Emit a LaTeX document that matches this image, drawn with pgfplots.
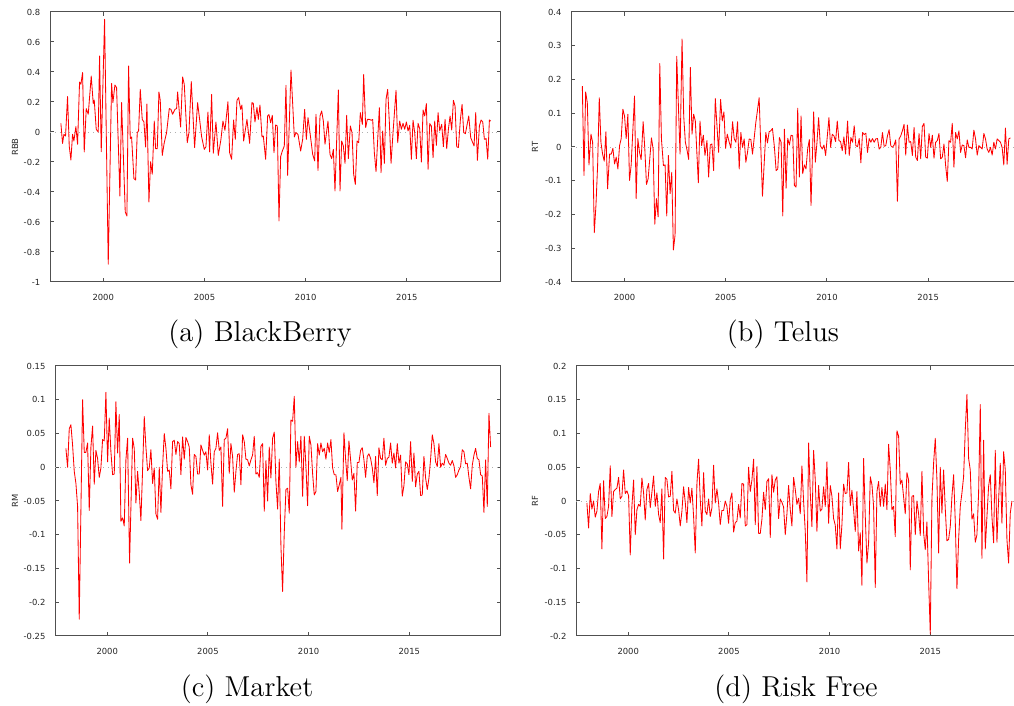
\documentclass[border=0pt]{standalone}
\usepackage{fontspec}
\newfontfamily\gp{DejaVu Sans}
\usepackage{pgfplots}
\pgfplotsset{compat=1.18}
\definecolor{gpframe}{RGB}{80,80,80}
\definecolor{gpzero}{RGB}{175,175,175}
\pgfplotsset{
  gpstyle/.style={
    scale only axis, height=135pt, anchor=south west,
    axis line style={draw=gpframe, line width=0.5pt},
    tick style={draw=gpframe, line width=0.5pt},
    major tick length=1.8pt, tick align=inside, tick pos=both,
    xticklabel pos=lower, yticklabel pos=left,
    tick label style={font=\gp\fontsize{4.2}{5}\selectfont, text=black!85},
    label style={font=\gp\fontsize{4.2}{5}\selectfont, text=black!85},
    /pgf/number format/assume math mode=true,
    xtick={2000,2005,2010,2015},
    xticklabel style={/pgf/number format/1000 sep={}, yshift=-2.4pt},
    yticklabel style={/pgf/number format/fixed, /pgf/number format/precision=2, xshift=-1.4pt},
    scaled x ticks=false, scaled y ticks=false,
    extra y ticks={0}, extra y tick labels={},
    extra y tick style={grid=major, major grid style={draw=gpzero, dotted, line width=0.4pt}, major tick length=0pt},
  },
  gpline/.style={draw=red, line width=0.42pt, mark=none, line join=round},
}
\begin{document}
\begin{tikzpicture}
\useasboundingbox (0,0) rectangle (507pt,353pt);
% (a) BlackBerry
\begin{axis}[gpstyle, at={(25pt,212pt)}, width=225.3pt,
  xmin=1997.37, xmax=2019.63, ymin=-1, ymax=0.8, ytick={-1,-0.8,...,0.8},
  ylabel={RBB}, ylabel style={at={(axis description cs:-0.0777,0.5)}, anchor=center}]
\addplot[gpline] coordinates {
(1997.908,0.058)(1997.990,-0.076)(1998.056,-0.016)(1998.138,-0.027)(1998.237,0.236)(1998.320,-0.093)(1998.402,-0.187)(1998.484,-0.016)(1998.550,-0.060)(1998.649,0.036)(1998.732,-0.082)(1998.830,0.333)(1998.896,0.318)(1998.979,0.396)(1999.061,-0.133)(1999.160,0.156)(1999.259,0.118)(1999.407,0.373)(1999.506,0.189)(1999.555,0.213)(1999.654,0.018)(1999.753,0.000)(1999.819,0.507)(1999.901,-0.131)(2000.066,0.751)(2000.247,-0.882)(2000.412,0.324)(2000.478,0.196)(2000.577,0.313)(2000.659,0.296)(2000.824,-0.427)(2000.906,0.196)(2001.087,-0.533)(2001.170,-0.560)(2001.252,0.440)(2001.334,-0.044)(2001.400,-0.033)(2001.516,-0.311)(2001.598,-0.320)(2001.680,-0.004)(2001.746,0.007)(2001.829,0.284)(2001.927,0.084)(2002.010,0.067)(2002.092,-0.100)(2002.158,0.187)(2002.257,-0.467)(2002.339,-0.198)(2002.422,-0.282)(2002.521,0.073)(2002.586,-0.111)(2002.669,-0.111)(2002.751,0.267)(2002.817,0.211)(2002.916,-0.156)(2003.015,-0.071)(2003.130,-0.004)(2003.262,0.156)(2003.344,0.151)(2003.427,0.118)(2003.542,0.151)(2003.624,0.156)(2003.674,0.267)(2003.822,0.033)(2003.921,0.367)(2004.003,0.318)(2004.151,-0.071)(2004.234,-0.004)(2004.349,0.336)(2004.514,-0.104)(2004.662,0.196)(2004.761,0.084)(2004.860,-0.031)(2004.992,-0.116)(2005.074,-0.098)(2005.173,0.133)(2005.255,-0.133)(2005.354,0.251)(2005.436,-0.142)(2005.568,0.067)(2005.684,-0.156)(2005.815,-0.049)(2005.914,0.073)(2006.013,0.011)(2006.161,0.202)(2006.244,-0.138)(2006.342,-0.182)(2006.441,0.080)(2006.524,-0.049)(2006.606,0.211)(2006.688,0.229)(2006.787,0.151)(2006.853,0.180)(2006.936,-0.060)(2007.100,0.084)(2007.232,-0.076)(2007.347,0.196)(2007.413,0.191)(2007.496,0.067)(2007.595,0.164)(2007.660,0.084)(2007.743,0.180)(2007.842,-0.033)(2007.908,-0.027)(2008.023,-0.182)(2008.122,0.107)(2008.188,0.116)(2008.270,0.062)(2008.352,0.111)(2008.435,-0.138)(2008.517,0.047)(2008.599,0.040)(2008.682,-0.593)(2008.764,-0.164)(2008.847,-0.127)(2008.945,-0.093)(2009.028,0.311)(2009.110,-0.289)(2009.275,0.413)(2009.440,-0.033)(2009.522,-0.004)(2009.621,-0.016)(2009.753,-0.127)(2009.851,-0.049)(2009.950,0.151)(2010.033,-0.049)(2010.115,0.096)(2010.214,-0.004)(2010.346,-0.149)(2010.445,-0.193)(2010.510,0.118)(2010.609,-0.256)(2010.708,0.107)(2010.790,0.140)(2010.873,0.073)(2010.955,-0.082)(2011.103,0.073)(2011.202,-0.149)(2011.285,-0.178)(2011.367,-0.116)(2011.449,-0.393)(2011.614,0.280)(2011.697,-0.393)(2011.779,-0.060)(2011.861,-0.093)(2011.944,-0.209)(2012.026,0.111)(2012.108,-0.178)(2012.207,0.040)(2012.290,-0.004)(2012.372,-0.282)(2012.454,-0.349)(2012.537,-0.060)(2012.619,-0.071)(2012.701,0.129)(2012.800,0.051)(2012.866,0.384)(2012.965,0.029)(2013.047,0.084)(2013.146,0.084)(2013.245,0.078)(2013.311,0.084)(2013.393,-0.138)(2013.476,-0.264)(2013.640,0.162)(2013.723,-0.271)(2013.805,0.007)(2013.888,-0.209)(2013.970,0.218)(2014.052,0.284)(2014.135,0.062)(2014.217,-0.209)(2014.316,-0.004)(2014.464,0.278)(2014.547,-0.071)(2014.645,0.073)(2014.728,0.018)(2014.810,0.058)(2014.893,0.018)(2014.975,0.067)(2015.057,0.007)(2015.140,0.044)(2015.222,-0.182)(2015.304,0.078)(2015.387,-0.004)(2015.469,-0.178)(2015.551,0.058)(2015.634,0.022)(2015.716,-0.200)(2015.799,0.147)(2015.881,0.107)(2015.963,0.189)(2016.046,-0.249)(2016.128,0.056)(2016.210,0.040)(2016.293,-0.171)(2016.375,0.073)(2016.458,-0.089)(2016.540,0.129)(2016.622,0.007)(2016.721,0.051)(2016.803,-0.098)(2016.886,0.084)(2016.968,-0.111)(2017.051,0.018)(2017.133,0.107)(2017.215,0.013)(2017.298,0.211)(2017.380,0.173)(2017.462,-0.098)(2017.545,-0.104)(2017.644,0.084)(2017.726,0.184)(2017.808,-0.004)(2017.891,-0.011)(2018.056,0.107)(2018.154,-0.038)(2018.319,-0.093)(2018.401,0.129)(2018.484,-0.189)(2018.583,0.040)(2018.665,0.080)(2018.747,0.067)(2018.830,-0.049)(2018.912,-0.044)(2018.994,-0.182)(2019.077,0.080)(2019.143,0.073)
};
\end{axis}
% (b) Telus
\begin{axis}[gpstyle, at={(285.65pt,212pt)}, width=225.3pt,
  xmin=1997.37, xmax=2019.63, ymin=-0.4, ymax=0.4, ytick={-0.4,-0.3,...,0.4},
  ylabel={RT}, ylabel style={at={(axis description cs:-0.0806,0.5)}, anchor=center}]
\addplot[gpline] coordinates {
(1997.915,0.180)(1997.997,-0.084)(1998.079,0.163)(1998.161,0.131)(1998.243,-0.053)(1998.342,0.038)(1998.424,0.014)(1998.506,-0.254)(1998.588,-0.173)(1998.670,-0.055)(1998.752,0.146)(1998.834,0.014)(1998.916,-0.021)(1998.998,-0.042)(1999.080,0.045)(1999.163,-0.124)(1999.261,-0.021)(1999.343,-0.021)(1999.425,-0.004)(1999.507,-0.050)(1999.589,-0.030)(1999.672,-0.065)(1999.754,0.004)(1999.836,0.025)(1999.918,0.112)(2000.000,0.092)(2000.082,0.025)(2000.164,0.097)(2000.246,-0.099)(2000.328,-0.053)(2000.493,0.151)(2000.575,-0.153)(2000.657,0.025)(2000.739,-0.016)(2000.821,-0.037)(2000.920,0.075)(2001.002,-0.006)(2001.084,-0.111)(2001.166,-0.094)(2001.330,0.027)(2001.412,-0.006)(2001.494,-0.229)(2001.576,-0.153)(2001.658,-0.207)(2001.741,0.247)(2001.823,0.024)(2001.921,-0.055)(2002.003,-0.053)(2002.085,-0.204)(2002.167,-0.025)(2002.250,-0.138)(2002.332,-0.075)(2002.414,-0.305)(2002.496,-0.261)(2002.578,0.269)(2002.742,-0.021)(2002.841,0.320)(2002.923,0.092)(2003.005,0.014)(2003.087,-0.009)(2003.169,-0.037)(2003.251,0.236)(2003.333,0.038)(2003.415,0.097)(2003.497,0.077)(2003.645,-0.106)(2003.727,0.077)(2003.809,0.004)(2003.892,0.035)(2003.974,-0.025)(2004.072,0.019)(2004.154,-0.089)(2004.236,0.006)(2004.318,0.009)(2004.401,-0.070)(2004.483,0.144)(2004.647,-0.016)(2004.745,0.141)(2004.827,0.077)(2004.910,0.104)(2004.992,-0.004)(2005.074,0.038)(2005.172,0.014)(2005.254,-0.003)(2005.337,0.075)(2005.419,0.024)(2005.501,0.014)(2005.583,0.075)(2005.665,-0.065)(2005.747,0.043)(2005.829,-0.001)(2005.911,0.024)(2005.993,-0.045)(2006.075,-0.016)(2006.158,0.024)(2006.240,0.022)(2006.322,-0.021)(2006.486,0.073)(2006.650,0.146)(2006.814,-0.146)(2006.979,0.043)(2007.061,0.012)(2007.143,0.045)(2007.225,0.048)(2007.307,0.055)(2007.405,-0.001)(2007.488,-0.070)(2007.570,-0.065)(2007.652,0.028)(2007.734,0.014)(2007.816,-0.204)(2007.898,0.053)(2007.980,-0.122)(2008.062,0.026)(2008.144,0.006)(2008.226,0.035)(2008.309,0.033)(2008.391,-0.114)(2008.473,-0.119)(2008.555,0.115)(2008.637,-0.089)(2008.719,0.092)(2008.801,-0.079)(2008.883,-0.053)(2008.965,-0.065)(2009.047,-0.006)(2009.130,0.022)(2009.212,-0.173)(2009.343,0.104)(2009.425,-0.045)(2009.507,0.014)(2009.589,0.087)(2009.671,0.004)(2009.770,-0.006)(2009.852,0.006)(2009.934,-0.025)(2010.098,0.087)(2010.180,-0.001)(2010.263,0.038)(2010.345,0.033)(2010.427,0.016)(2010.509,0.077)(2010.591,0.019)(2010.673,0.016)(2010.755,-0.011)(2010.837,0.030)(2010.919,-0.021)(2011.018,0.077)(2011.100,-0.025)(2011.182,0.028)(2011.264,0.014)(2011.346,0.063)(2011.428,0.004)(2011.510,0.001)(2011.593,0.025)(2011.675,-0.047)(2011.757,0.043)(2011.839,0.037)(2011.921,0.041)(2012.003,-0.016)(2012.085,0.025)(2012.167,0.014)(2012.249,0.025)(2012.331,0.014)(2012.414,0.024)(2012.496,0.025)(2012.578,-0.006)(2012.660,-0.001)(2012.742,0.043)(2012.824,0.002)(2012.906,0.004)(2012.988,0.033)(2013.070,0.051)(2013.152,0.004)(2013.235,-0.001)(2013.317,0.006)(2013.399,0.021)(2013.481,-0.161)(2013.563,0.024)(2013.645,0.033)(2013.727,0.048)(2013.809,0.067)(2013.891,-0.024)(2013.973,0.065)(2014.056,0.014)(2014.138,0.016)(2014.220,-0.025)(2014.302,0.058)(2014.384,-0.030)(2014.466,-0.040)(2014.548,0.040)(2014.630,-0.035)(2014.712,0.061)(2014.794,0.070)(2014.877,-0.030)(2014.959,-0.033)(2015.041,0.040)(2015.123,-0.001)(2015.205,0.035)(2015.287,-0.033)(2015.369,0.014)(2015.451,0.019)(2015.533,0.040)(2015.615,-0.035)(2015.698,-0.030)(2015.780,0.009)(2015.862,-0.055)(2015.944,-0.102)(2016.026,0.019)(2016.108,0.014)(2016.190,0.070)(2016.272,-0.060)(2016.354,0.043)(2016.436,0.024)(2016.519,0.048)(2016.601,-0.016)(2016.683,0.006)(2016.765,0.004)(2016.847,-0.032)(2016.929,0.021)(2017.011,-0.001)(2017.093,-0.001)(2017.175,-0.006)(2017.257,0.050)(2017.340,0.024)(2017.422,-0.024)(2017.504,0.004)(2017.586,-0.001)(2017.668,-0.006)(2017.750,0.040)(2017.832,0.024)(2017.914,-0.006)(2017.996,-0.016)(2018.078,-0.001)(2018.161,-0.024)(2018.243,0.014)(2018.325,-0.006)(2018.407,0.024)(2018.489,0.019)(2018.571,0.014)(2018.653,-0.001)(2018.735,-0.053)(2018.817,0.056)(2018.899,-0.051)(2018.982,0.024)(2019.064,0.027)
};
\end{axis}
% (c) Market
\begin{axis}[gpstyle, at={(27.65pt,35pt)}, width=222.7pt,
  xmin=1997.42, xmax=2019.54, ymin=-0.25, ymax=0.15, ytick={-0.25,-0.2,-0.15,-0.1,-0.05,0,0.05,0.1,0.15},
  ylabel={RM}, ylabel style={at={(axis description cs:-0.0905,0.5)}, anchor=center}]
\addplot[gpline] coordinates {
(1997.947,0.028)(1998.030,0.000)(1998.113,0.057)(1998.195,0.063)(1998.278,0.033)(1998.361,-0.006)(1998.444,-0.024)(1998.527,-0.058)(1998.609,-0.225)(1998.692,-0.063)(1998.775,0.100)(1998.858,0.022)(1998.940,0.022)(1999.023,0.036)(1999.106,-0.064)(1999.189,0.030)(1999.272,0.061)(1999.354,-0.025)(1999.437,0.025)(1999.520,0.013)(1999.603,-0.015)(1999.685,-0.001)(1999.768,0.041)(1999.851,0.039)(1999.934,0.111)(2000.017,0.008)(2000.099,0.073)(2000.182,0.023)(2000.265,-0.011)(2000.348,-0.010)(2000.430,0.097)(2000.513,0.021)(2000.596,0.078)(2000.679,-0.080)(2000.762,-0.075)(2000.844,-0.087)(2000.927,0.011)(2001.010,0.043)(2001.109,-0.142)(2001.258,0.043)(2001.341,0.028)(2001.424,-0.053)(2001.507,-0.006)(2001.589,-0.038)(2001.672,-0.079)(2001.755,-0.004)(2001.838,0.075)(2001.920,0.030)(2002.003,-0.005)(2002.086,-0.001)(2002.169,0.026)(2002.252,-0.024)(2002.334,-0.001)(2002.417,-0.069)(2002.500,-0.077)(2002.583,0.000)(2002.666,-0.067)(2002.748,0.001)(2002.831,0.050)(2002.914,0.028)(2002.997,-0.006)(2003.079,-0.004)(2003.162,-0.032)(2003.245,0.038)(2003.328,0.040)(2003.411,0.019)(2003.493,0.038)(2003.576,0.035)(2003.659,-0.011)(2003.742,0.045)(2003.824,0.012)(2003.907,0.044)(2003.990,0.038)(2004.073,0.030)(2004.156,-0.026)(2004.238,-0.040)(2004.321,0.019)(2004.404,0.016)(2004.487,-0.010)(2004.569,-0.010)(2004.652,0.033)(2004.735,0.025)(2004.818,0.018)(2004.901,0.023)(2004.983,-0.004)(2005.066,0.048)(2005.149,0.006)(2005.232,-0.025)(2005.314,0.023)(2005.397,0.028)(2005.480,0.051)(2005.563,0.025)(2005.646,0.030)(2005.728,-0.058)(2005.811,0.041)(2005.894,0.043)(2005.977,0.057)(2006.059,-0.009)(2006.142,0.035)(2006.225,0.016)(2006.308,-0.037)(2006.391,-0.006)(2006.473,0.019)(2006.556,0.020)(2006.639,-0.026)(2006.722,0.048)(2006.805,0.038)(2006.887,0.012)(2006.970,0.011)(2007.053,0.002)(2007.136,0.011)(2007.218,0.018)(2007.301,0.046)(2007.384,-0.010)(2007.467,-0.008)(2007.550,-0.015)(2007.632,0.031)(2007.715,0.035)(2007.798,-0.065)(2007.881,0.010)(2007.963,-0.050)(2008.046,0.030)(2008.129,-0.016)(2008.212,0.043)(2008.295,0.052)(2008.377,-0.021)(2008.460,-0.062)(2008.543,0.012)(2008.626,-0.117)(2008.708,-0.184)(2008.791,-0.097)(2008.874,-0.033)(2008.957,-0.031)(2009.040,-0.068)(2009.122,0.070)(2009.205,0.068)(2009.288,0.105)(2009.371,0.000)(2009.453,0.038)(2009.536,0.008)(2009.619,0.046)(2009.702,-0.043)(2009.785,0.046)(2009.867,0.002)(2009.950,-0.057)(2010.033,0.046)(2010.116,0.033)(2010.198,-0.009)(2010.281,-0.041)(2010.364,-0.036)(2010.447,0.035)(2010.530,0.018)(2010.612,0.036)(2010.695,0.023)(2010.778,0.028)(2010.861,0.012)(2010.943,0.036)(2011.026,0.022)(2011.109,0.041)(2011.192,-0.001)(2011.275,-0.011)(2011.357,-0.011)(2011.440,-0.036)(2011.523,-0.026)(2011.606,-0.015)(2011.655,-0.092)(2011.755,0.051)(2011.838,0.012)(2011.920,-0.020)(2012.003,0.039)(2012.086,0.011)(2012.169,-0.019)(2012.251,-0.009)(2012.334,-0.065)(2012.417,0.007)(2012.500,0.007)(2012.583,0.025)(2012.665,0.029)(2012.748,0.011)(2012.831,-0.015)(2012.914,0.016)(2012.996,0.020)(2013.079,0.013)(2013.162,-0.001)(2013.245,-0.023)(2013.328,0.016)(2013.410,-0.042)(2013.493,0.029)(2013.576,0.013)(2013.659,0.011)(2013.741,0.043)(2013.824,0.003)(2013.907,0.013)(2013.990,0.015)(2014.073,0.036)(2014.155,0.006)(2014.238,0.021)(2014.321,-0.001)(2014.404,0.035)(2014.487,0.006)(2014.569,0.018)(2014.652,-0.043)(2014.735,-0.027)(2014.818,0.008)(2014.900,0.005)(2014.983,-0.011)(2015.066,0.038)(2015.149,-0.021)(2015.232,0.021)(2015.314,-0.029)(2015.397,-0.010)(2015.480,-0.006)(2015.563,-0.042)(2015.645,-0.041)(2015.728,0.016)(2015.811,-0.016)(2015.894,-0.033)(2015.977,-0.016)(2016.059,0.012)(2016.142,0.048)(2016.225,0.035)(2016.308,0.008)(2016.390,0.001)(2016.473,0.035)(2016.556,0.000)(2016.639,0.006)(2016.722,0.003)(2016.804,0.019)(2016.887,0.013)(2016.970,0.006)(2017.053,0.003)(2017.135,0.010)(2017.218,0.002)(2017.301,-0.015)(2017.384,-0.011)(2017.467,-0.004)(2017.549,0.001)(2017.632,0.026)(2017.715,0.023)(2017.798,0.005)(2017.880,0.006)(2017.963,-0.015)(2018.046,-0.032)(2018.129,0.003)(2018.212,0.018)(2018.294,0.028)(2018.377,0.013)(2018.460,0.011)(2018.543,-0.011)(2018.626,-0.013)(2018.708,-0.067)(2018.791,0.011)(2018.874,-0.058)(2018.957,0.080)(2019.039,0.030)
};
\end{axis}
% (d) Risk Free
\begin{axis}[gpstyle, at={(288.15pt,35pt)}, width=222.7pt,
  xmin=1997.42, xmax=2019.54, ymin=-0.2, ymax=0.2, ytick={-0.2,-0.15,-0.1,-0.05,0,0.05,0.1,0.15,0.2},
  ylabel={RF}, ylabel style={at={(axis description cs:-0.0927,0.5)}, anchor=center}]
\addplot[gpline] coordinates {
(1997.947,-0.003)(1998.030,-0.040)(1998.113,0.011)(1998.195,-0.012)(1998.278,0.000)(1998.361,-0.024)(1998.444,-0.015)(1998.527,0.014)(1998.609,0.026)(1998.692,-0.071)(1998.775,0.030)(1998.858,-0.026)(1998.940,-0.023)(1999.023,-0.008)(1999.106,0.052)(1999.189,-0.023)(1999.272,0.014)(1999.354,0.017)(1999.437,0.019)(1999.520,0.035)(1999.603,0.003)(1999.685,0.007)(1999.768,0.046)(1999.851,0.011)(1999.934,0.015)(2000.017,0.008)(2000.099,-0.080)(2000.182,-0.008)(2000.265,0.031)(2000.348,-0.050)(2000.430,-0.013)(2000.513,-0.005)(2000.596,-0.008)(2000.679,0.034)(2000.762,0.012)(2000.844,-0.028)(2000.927,0.017)(2001.010,0.026)(2001.093,-0.010)(2001.175,0.013)(2001.258,0.037)(2001.341,-0.008)(2001.424,0.012)(2001.507,-0.020)(2001.589,-0.032)(2001.672,0.018)(2001.755,-0.086)(2001.838,0.035)(2001.920,0.032)(2002.003,0.006)(2002.086,0.007)(2002.169,0.044)(2002.252,-0.014)(2002.334,-0.018)(2002.417,0.003)(2002.500,-0.013)(2002.583,-0.037)(2002.666,-0.015)(2002.748,0.021)(2002.831,-0.002)(2002.914,-0.032)(2002.997,0.020)(2003.079,-0.003)(2003.162,0.019)(2003.245,-0.023)(2003.328,-0.077)(2003.411,0.026)(2003.493,0.062)(2003.576,0.002)(2003.659,-0.037)(2003.742,0.042)(2003.824,-0.015)(2003.907,-0.020)(2003.990,0.003)(2004.073,-0.023)(2004.156,-0.010)(2004.238,0.053)(2004.321,-0.003)(2004.404,0.018)(2004.487,-0.003)(2004.569,-0.035)(2004.652,-0.014)(2004.735,-0.014)(2004.818,0.000)(2004.901,-0.008)(2004.983,-0.033)(2005.066,0.002)(2005.149,0.012)(2005.232,-0.046)(2005.314,-0.032)(2005.397,-0.030)(2005.480,-0.005)(2005.563,-0.025)(2005.646,0.026)(2005.728,0.025)(2005.811,-0.037)(2005.894,-0.035)(2005.977,0.050)(2006.059,0.014)(2006.142,0.031)(2006.225,0.062)(2006.308,-0.035)(2006.391,0.051)(2006.473,-0.048)(2006.556,-0.048)(2006.639,-0.027)(2006.722,0.013)(2006.805,-0.013)(2006.887,0.029)(2006.970,0.033)(2007.053,-0.054)(2007.136,0.039)(2007.218,0.013)(2007.301,0.031)(2007.384,0.036)(2007.467,-0.026)(2007.550,0.003)(2007.632,-0.002)(2007.715,-0.009)(2007.798,-0.050)(2007.881,-0.019)(2007.963,0.023)(2008.046,-0.013)(2008.129,-0.037)(2008.212,0.035)(2008.295,0.017)(2008.377,-0.005)(2008.460,0.004)(2008.543,-0.019)(2008.626,0.052)(2008.708,0.000)(2008.791,-0.045)(2008.874,-0.120)(2008.957,0.086)(2009.040,0.012)(2009.122,-0.038)(2009.205,0.075)(2009.288,0.031)(2009.371,-0.045)(2009.453,0.023)(2009.536,-0.015)(2009.619,-0.012)(2009.702,0.021)(2009.785,-0.008)(2009.867,0.058)(2009.950,-0.033)(2010.033,0.023)(2010.116,0.007)(2010.198,-0.026)(2010.281,-0.036)(2010.364,-0.071)(2010.447,0.012)(2010.530,-0.071)(2010.612,-0.035)(2010.695,0.025)(2010.778,0.011)(2010.861,0.012)(2010.943,0.057)(2011.026,-0.007)(2011.109,0.016)(2011.192,-0.013)(2011.275,-0.045)(2011.357,0.014)(2011.440,-0.074)(2011.523,-0.047)(2011.606,-0.125)(2011.689,0.063)(2011.772,-0.023)(2011.855,-0.092)(2011.937,-0.062)(2012.020,0.036)(2012.103,0.024)(2012.185,-0.008)(2012.268,-0.128)(2012.351,0.014)(2012.434,0.029)(2012.516,-0.008)(2012.599,0.020)(2012.682,-0.008)(2012.765,0.025)(2012.848,-0.013)(2012.930,0.084)(2013.013,0.046)(2013.096,-0.013)(2013.179,-0.008)(2013.261,-0.053)(2013.344,0.104)(2013.427,0.096)(2013.510,0.025)(2013.592,0.031)(2013.675,0.006)(2013.758,-0.019)(2013.841,0.042)(2013.924,0.031)(2014.006,-0.102)(2014.089,0.007)(2014.172,0.008)(2014.255,-0.050)(2014.337,0.000)(2014.420,-0.019)(2014.503,-0.051)(2014.586,0.044)(2014.669,-0.047)(2014.751,-0.072)(2014.834,-0.031)(2014.917,-0.118)(2015.000,-0.197)(2015.082,0.004)(2015.165,0.056)(2015.248,0.093)(2015.331,0.031)(2015.414,-0.077)(2015.496,0.050)(2015.579,-0.018)(2015.662,0.046)(2015.745,-0.012)(2015.827,-0.059)(2015.910,-0.057)(2015.993,-0.038)(2016.076,0.007)(2016.159,0.039)(2016.241,-0.030)(2016.324,-0.130)(2016.407,-0.057)(2016.490,-0.008)(2016.572,0.012)(2016.655,0.036)(2016.738,0.105)(2016.821,0.158)(2016.904,0.063)(2016.986,0.046)(2017.069,-0.027)(2017.152,-0.019)(2017.235,-0.061)(2017.317,-0.050)(2017.400,0.012)(2017.483,0.143)(2017.566,-0.085)(2017.649,0.090)(2017.731,-0.071)(2017.814,-0.023)(2017.897,0.022)(2017.980,0.039)(2018.062,-0.023)(2018.145,-0.062)(2018.228,0.075)(2018.311,-0.061)(2018.394,0.002)(2018.476,0.056)(2018.559,-0.033)(2018.642,0.073)(2018.725,0.046)(2018.807,-0.057)(2018.890,-0.092)(2018.973,-0.018)(2019.056,0.000)
};
\end{axis}
\begin{scope}[every node/.style={font=\fontsize{14.4}{17}\selectfont, anchor=base, inner sep=0pt}]
\node at (130pt,182pt) {(a) BlackBerry};
\node at (391.5pt,182pt) {(b) Telus};
\node at (123.5pt,4.5pt) {(c) Market};
\node at (398pt,4.5pt) {(d) Risk Free};
\end{scope}
\end{tikzpicture}
\end{document}
